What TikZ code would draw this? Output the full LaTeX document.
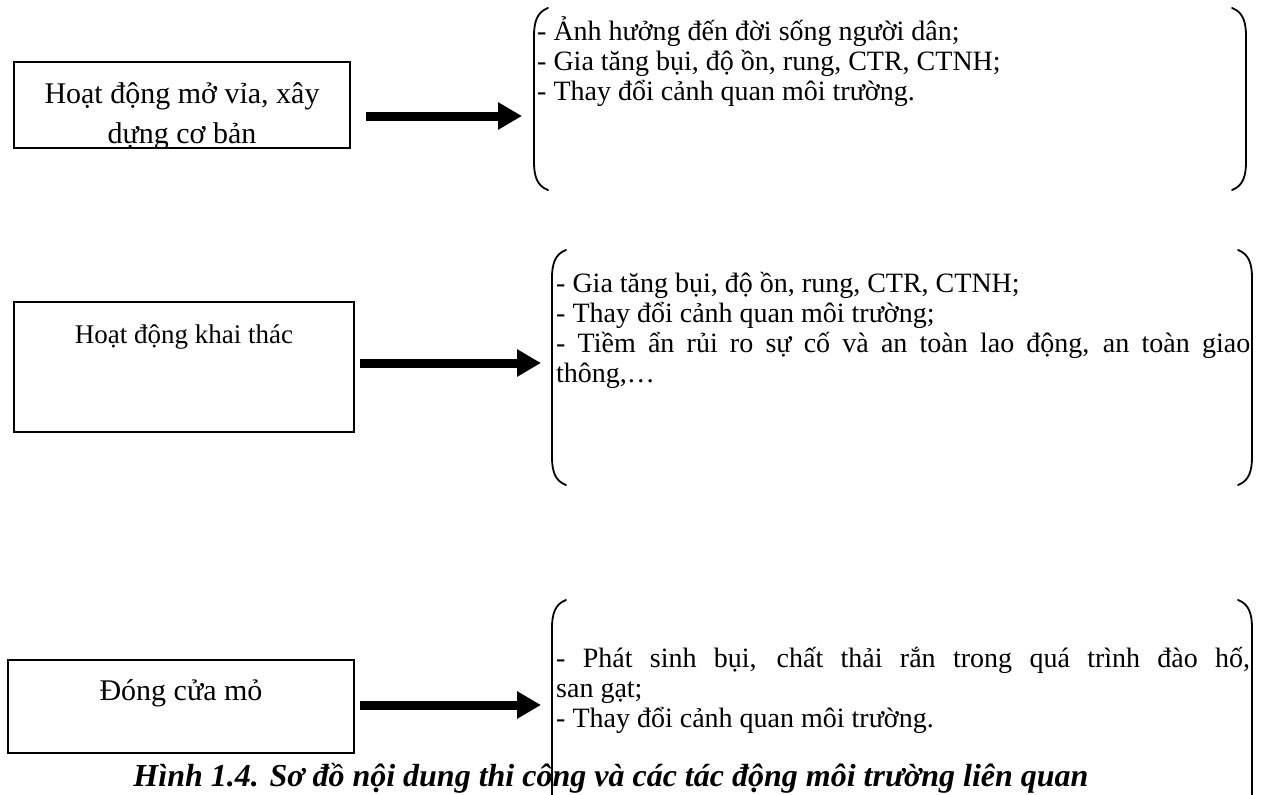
\documentclass[tikz,border=0pt]{standalone}
\usepackage{fontspec}
\setmainfont{Liberation Serif}
\usetikzlibrary{arrows.meta,calc}
\tikzset{
  stage/.style={draw=black, line width=1.5pt, inner sep=0pt},
  stagetxt/.style={inner sep=0pt, font=\fontsize{30}{38}\selectfont},
  efftxt/.style={inner sep=0pt, anchor=base west, font=\fontsize{28}{30}\selectfont},
  brace/.style={draw=black, line width=1.8pt, line cap=round},
  fatarrow/.style={line width=9pt, -{Triangle[length=24pt,width=26pt]}},
  capt/.style={inner sep=0pt, anchor=base, font=\fontsize{32}{36}\selectfont\bfseries\itshape},
}
% round bracket pair round one list of effects: x1, y1, x2, y2
\newcommand{\effbrace}[4]{%
  \draw[brace] ({#1+14},#2) .. controls ({#1+3},{#2+4}) and (#1,{#2+14}) .. (#1,{#2+28})
    -- (#1,{#4-28}) .. controls (#1,{#4-14}) and ({#1+3},{#4-4}) .. ({#1+14},#4);
  \draw[brace] ({#3-14},#2) .. controls ({#3-3},{#2+4}) and (#3,{#2+14}) .. (#3,{#2+28})
    -- (#3,{#4-28}) .. controls (#3,{#4-14}) and ({#3-3},{#4-4}) .. ({#3-14},#4);
}

\begin{document}
\begin{tikzpicture}[x=1pt, y=-1pt]
  \fill[white] (0,0) rectangle (1262,795);
  \useasboundingbox (0,0) rectangle (1262,795);
  \clip (0,0) rectangle (1262,795);

  % stages
  \node[stage, minimum width=336pt, minimum height=86pt] (open) at (182,105) {};
  \node[stage, minimum width=340pt, minimum height=130pt] (mine) at (184,367) {};
  \node[stage, minimum width=346pt, minimum height=93pt] (close) at (181,706.5) {};

  \begin{scope}
    \clip (open.north west) rectangle (open.south east);
    \node[stagetxt, anchor=base] (opentxt) at (182,103) {Hoạt động mở vỉa, xây};
    \node[stagetxt, anchor=base] (opentxt2) at (182,143) {dựng cơ bản};
  \end{scope}
  \node[stagetxt, anchor=base, font=\fontsize{27}{30}\selectfont] (minetxt) at (184,343) {Hoạt động khai thác};
  \node[stagetxt, anchor=base] (closetxt) at (181,700) {Đóng cửa mỏ};

  % effects
  \node[efftxt] (eff1) at (537,40) {\parbox[t]{705pt}{\parindent=0pt
    - Ảnh hưởng đến đời sống người dân;\par
    - Gia tăng bụi, độ ồn, rung, CTR, CTNH;\par
    - Thay đổi cảnh quan môi trường.}};
  \node[efftxt] (eff2) at (556,292) {\parbox[t]{694pt}{\parindent=0pt
    - Gia tăng bụi, độ ồn, rung, CTR, CTNH;\par
    - Thay đổi cảnh quan môi trường;\par
    - Tiềm ẩn rủi ro sự cố và an toàn lao động, an toàn giao\linebreak thông,…}};
  \node[efftxt] (eff3) at (556,667) {\parbox[t]{694pt}{\parindent=0pt
    - Phát sinh bụi, chất thải rắn trong quá trình đào hố,\linebreak san gạt;\par
    - Thay đổi cảnh quan môi trường.}};

  \node[capt] (cap) at (611,786)
    {Hình 1.4. Sơ đồ nội dung thi công và các tác động môi trường liên quan};

  \effbrace{534}{8}{1246}{190}
  \effbrace{552}{250}{1252}{485}
  \effbrace{552}{600}{1252}{840}

  % arrows
  \coordinate (t1) at (522,116);
  \coordinate (t2) at (541,363);
  \coordinate (t3) at (541,705);
  \draw[fatarrow] ([xshift=15pt]open.east |- t1) -- (t1);
  \draw[fatarrow] ([xshift=5pt]mine.east |- t2) -- (t2);
  \draw[fatarrow] ([xshift=5pt]close.east |- t3) -- (t3);
\end{tikzpicture}
\end{document}
